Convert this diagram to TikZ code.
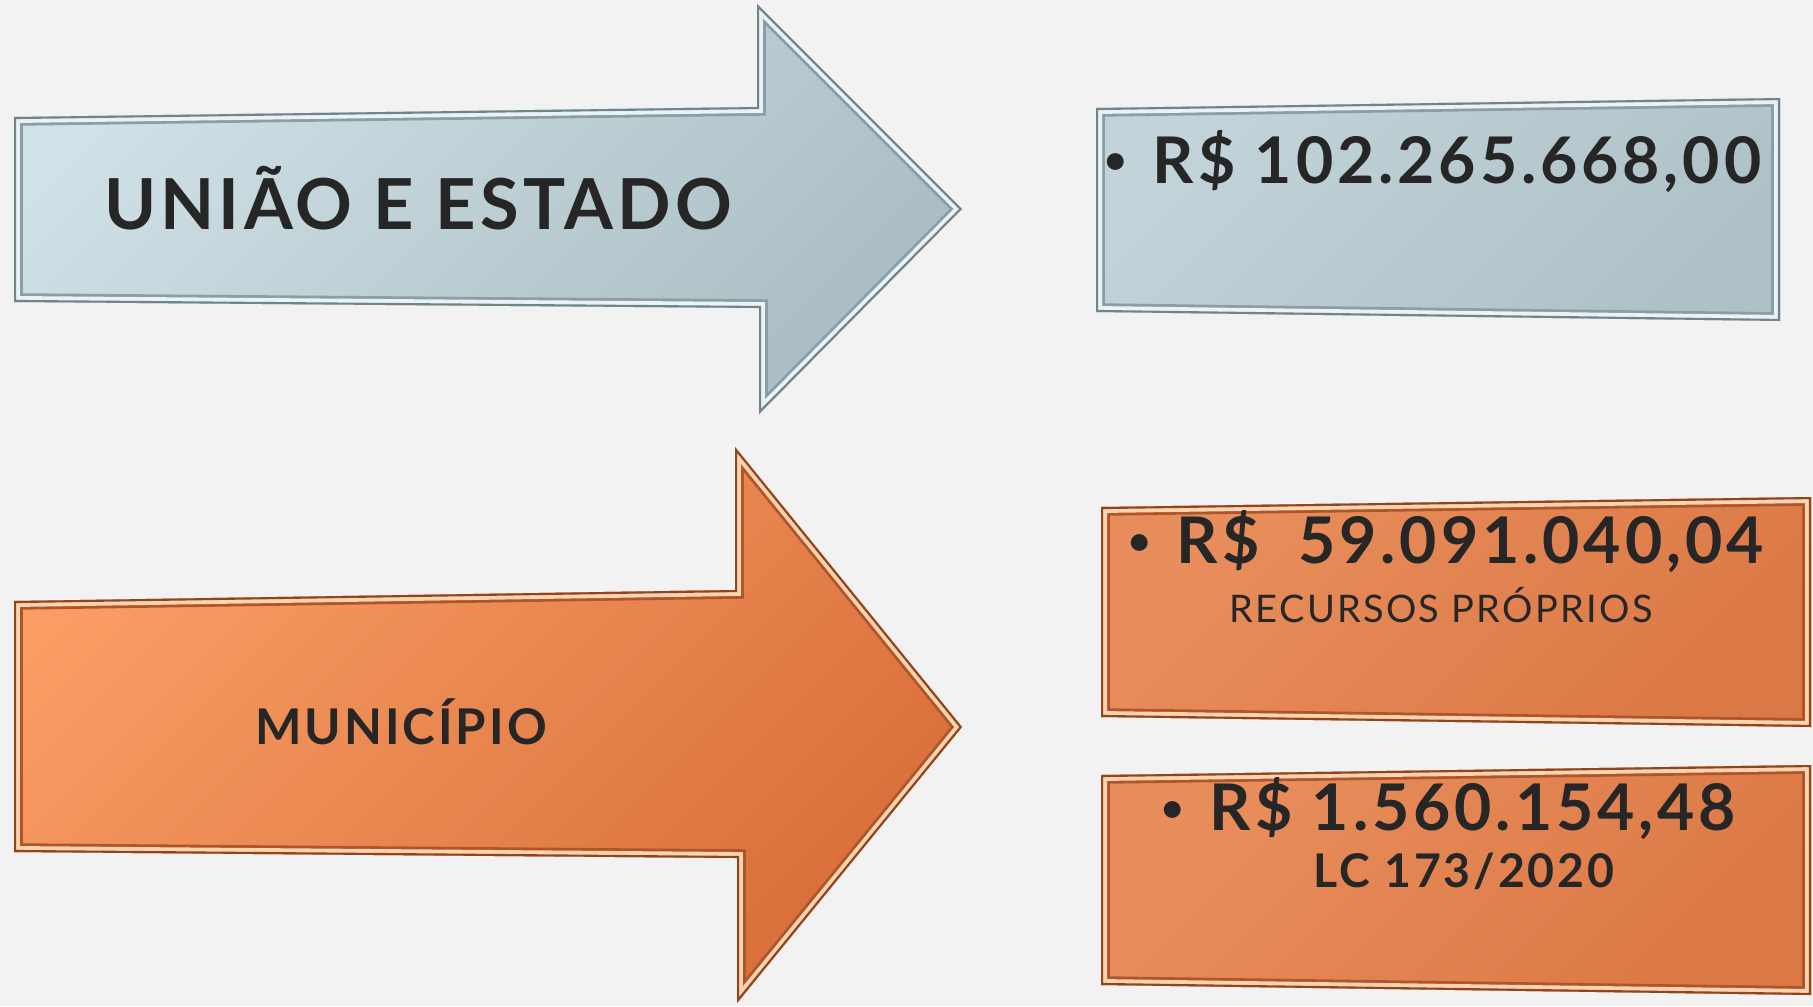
\documentclass[tikz,border=0pt]{standalone}
\usepackage{fontspec}
\setmainfont{Lato}
\newfontfamily\spacedfont[LetterSpace=6]{Lato}
\usetikzlibrary{calc}

\begin{document}
\begin{tikzpicture}[x=0.01cm,y=-0.01cm,line join=miter]
  % Local definitions
  \def\uniaopath{(14,117) -- (757,107) -- (757,4) -- (962,209) -- (759,414) -- (759,308) -- (14,302) -- cycle}
  \def\municipiopath{(14,601) -- (735,590) -- (735,447) -- (962,727) -- (737,1003) -- (737,858) -- (14,852) -- cycle}
  \def\boxuniao{(1096,108) -- (1780,98) -- (1780,321) -- (1096,312) -- cycle}
  \def\boxproprio{(1101,507) -- (1811,497) -- (1811,727) -- (1101,717) -- cycle}
  \def\boxlc{(1101,775) -- (1811,765) -- (1811,995) -- (1101,985) -- cycle}
  \def\bulletmark{\raisebox{0.14em}{\fontsize{11}{11}\selectfont•}\hspace{0.4em}}
  % shape with a raised edge: path, light, dark, band, rim, edge
  \def\bevel#1#2#3#4#5#6{%
    \shade[top color=#2,bottom color=#3,shading angle=45] #1;
    \begin{scope}
      \clip #1;
      \draw[#4,line width=5pt] #1;
      \draw[#5,line width=3.4pt] #1;
      \draw[#6,line width=1.2pt] #1;
    \end{scope}}

  % Colors
  \definecolor{bgcolor}{HTML}{F2F2F2}
  \definecolor{textcolor}{HTML}{262626}
  \definecolor{bluelight}{HTML}{D0E1E7}
  \definecolor{bluedark}{HTML}{A9BDC3}
  \definecolor{blueboxlight}{HTML}{C2D4DA}
  \definecolor{blueboxdark}{HTML}{AEC1C7}
  \definecolor{blueband}{HTML}{8A9EA4}
  \definecolor{bluerim}{HTML}{E9F2F4}
  \definecolor{blueedge}{HTML}{72848A}
  \definecolor{orangelight}{HTML}{F99D65}
  \definecolor{orangedark}{HTML}{D96F3B}
  \definecolor{orangeboxlight}{HTML}{E88E5C}
  \definecolor{orangeboxdark}{HTML}{DB7946}
  \definecolor{orangeband}{HTML}{B0552A}
  \definecolor{orangerim}{HTML}{FDD4B2}
  \definecolor{orangeedge}{HTML}{8F451D}

  % Styles
  \tikzstyle{label text}=[inner sep=0pt,anchor=base,text=textcolor]
  \tikzstyle{big label}=[label text,font=\spacedfont\bfseries\fontsize{20}{24}\selectfont]
  \tikzstyle{small label}=[label text,font=\spacedfont\bfseries\fontsize{14}{17}\selectfont]
  \tikzstyle{value text}=[label text,anchor=base west,font=\spacedfont\bfseries\fontsize{18.3}{22}\selectfont]
  \tikzstyle{note text}=[label text,font=\spacedfont\fontsize{10.8}{13}\selectfont]
  \tikzstyle{law text}=[label text,font=\spacedfont\bfseries\fontsize{13.2}{16}\selectfont]

  % The graphic
  \fill[bgcolor] (0,0) rectangle (1813,1006);
  \useasboundingbox (0,0) rectangle (1813,1006);

  \bevel{\uniaopath}{bluelight}{bluedark}{blueband}{bluerim}{blueedge}
  \bevel{\municipiopath}{orangelight}{orangedark}{orangeband}{orangerim}{orangeedge}
  \bevel{\boxuniao}{blueboxlight}{blueboxdark}{blueband}{bluerim}{blueedge}
  \bevel{\boxproprio}{orangeboxlight}{orangeboxdark}{orangeband}{orangerim}{orangeedge}
  \bevel{\boxlc}{orangeboxlight}{orangeboxdark}{orangeband}{orangerim}{orangeedge}

  \node[big label] (uniao) at (418,229) {UNIÃO E ESTADO};
  \node[small label] (municipio) at (401,744) {MUNICÍPIO};

  \node[value text] (valoruniao) at (1104,183) {\bulletmark R\$ 102.265.668,00};
  \node[value text] (valorproprio) at (1128,563) {\bulletmark R\$~~59.091.040,04};
  \node[note text] (recursos) at (1441,622) {RECURSOS PRÓPRIOS};
  \node[value text] (valorlc) at (1161,830) {\bulletmark R\$ 1.560.154,48};
  \node[law text] (lc) at (1464,887) {LC 173/2020};
\end{tikzpicture}
\end{document}
